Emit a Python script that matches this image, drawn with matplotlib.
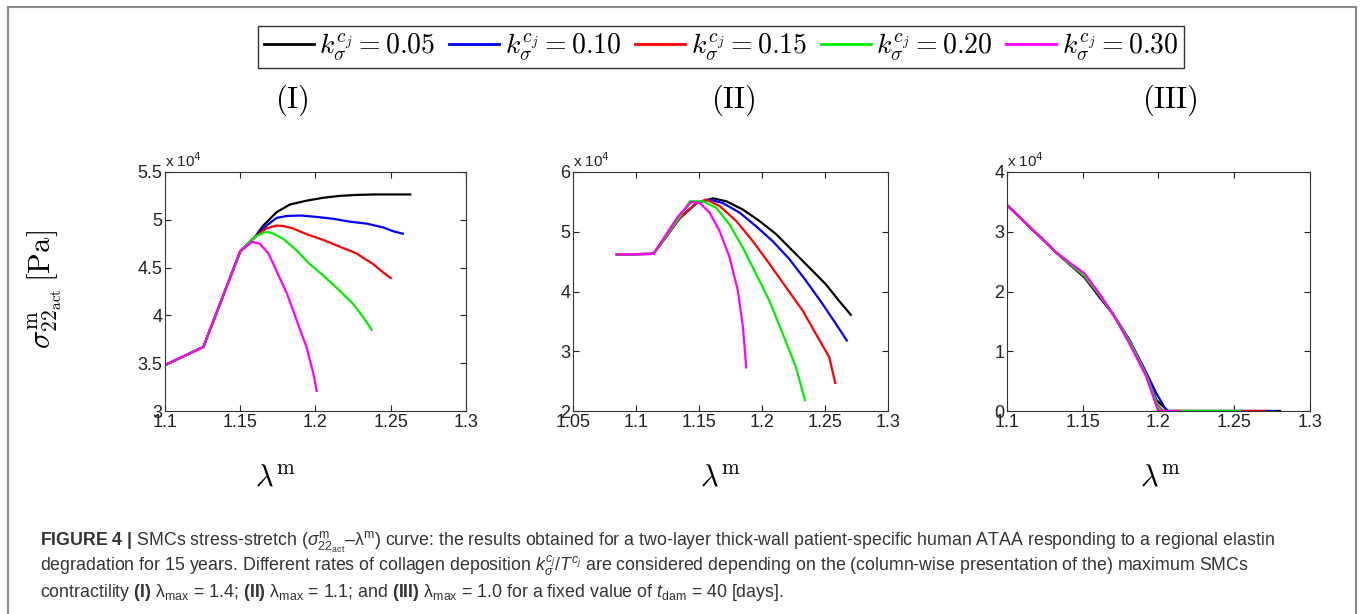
import matplotlib
matplotlib.use("Agg")
import matplotlib.pyplot as plt
from matplotlib.lines import Line2D
from matplotlib.ticker import FuncFormatter

plt.rcParams['font.family'] = ['Liberation Sans', 'DejaVu Sans']
plt.rcParams['mathtext.fontset'] = 'cm'

# legend labels and colours
k_labels = ['0.05', '0.10', '0.15', '0.20', '0.30']
colors = ['black', '#0000ff', '#ff0000', '#00ee00', '#ff00ff']

# panel I, stress in 10^4 Pa
p1_x = [
    [1.101, 1.1255, 1.150, 1.1598, 1.1653, 1.1742, 1.183, 1.194, 1.205, 1.216, 1.227, 1.238, 1.250, 1.263],
    [1.101, 1.1255, 1.150, 1.1598, 1.1675, 1.1742, 1.181, 1.190, 1.2008, 1.212, 1.223, 1.234, 1.245, 1.2517, 1.258],
    [1.101, 1.1255, 1.150, 1.1598, 1.1675, 1.174, 1.1786, 1.185, 1.194, 1.205, 1.216, 1.227, 1.238, 1.245, 1.250],
    [1.101, 1.1255, 1.150, 1.1598, 1.166, 1.169, 1.172, 1.1786, 1.1875, 1.196, 1.205, 1.216, 1.225, 1.2318, 1.2373],
    [1.101, 1.1255, 1.150, 1.158, 1.163, 1.1687, 1.174, 1.181, 1.1875, 1.194, 1.1986, 1.2008],
]
p1_y = [
    [3.488, 3.67, 4.67, 4.82, 4.94, 5.08, 5.16, 5.20, 5.23, 5.25, 5.26, 5.265, 5.265, 5.265],
    [3.488, 3.67, 4.67, 4.82, 4.94, 5.02, 5.04, 5.045, 5.03, 5.01, 4.98, 4.96, 4.92, 4.88, 4.855],
    [3.488, 3.67, 4.67, 4.82, 4.91, 4.94, 4.935, 4.91, 4.85, 4.79, 4.72, 4.65, 4.54, 4.45, 4.39],
    [3.488, 3.67, 4.67, 4.82, 4.87, 4.87, 4.855, 4.80, 4.68, 4.54, 4.42, 4.26, 4.12, 3.98, 3.85],
    [3.488, 3.67, 4.67, 4.77, 4.75, 4.65, 4.47, 4.23, 3.95, 3.67, 3.39, 3.21],
]

# panel II
p2_x = [
    [1.0848, 1.1138, 1.1348, 1.148, 1.1612, 1.1717, 1.1849, 1.198, 1.2112, 1.2244, 1.2376, 1.2507, 1.2613, 1.2705],
    [1.0848, 1.1138, 1.1348, 1.148, 1.1585, 1.169, 1.1822, 1.1954, 1.2086, 1.2218, 1.2349, 1.2481, 1.2586, 1.2673],
    [1.0848, 1.1138, 1.1348, 1.148, 1.1559, 1.1664, 1.1796, 1.1928, 1.206, 1.2191, 1.2323, 1.2428, 1.2534, 1.2581],
    [1.0848, 1.1138, 1.1348, 1.1427, 1.1533, 1.1638, 1.1743, 1.1849, 1.1954, 1.206, 1.2165, 1.227, 1.2341],
    [1.0848, 1.1138, 1.1335, 1.144, 1.1506, 1.1585, 1.1664, 1.1743, 1.1809, 1.1849, 1.1875],
]
p2_y = [
    [4.62, 4.63, 5.23, 5.48, 5.56, 5.51, 5.37, 5.18, 4.96, 4.68, 4.40, 4.12, 3.84, 3.61],
    [4.62, 4.63, 5.23, 5.48, 5.54, 5.48, 5.32, 5.09, 4.84, 4.54, 4.18, 3.79, 3.46, 3.18],
    [4.62, 4.63, 5.23, 5.48, 5.54, 5.43, 5.18, 4.84, 4.46, 4.07, 3.68, 3.29, 2.90, 2.47],
    [4.62, 4.63, 5.25, 5.51, 5.51, 5.40, 5.12, 4.73, 4.29, 3.84, 3.29, 2.73, 2.18],
    [4.62, 4.63, 5.26, 5.50, 5.48, 5.32, 5.01, 4.57, 4.01, 3.40, 2.73],
]

# panel III
p3_x = [
    [1.1007, 1.1326, 1.1513, 1.1612, 1.170, 1.181, 1.192, 1.1987, 1.2064, 1.2802],
    [1.1007, 1.1326, 1.1513, 1.1612, 1.170, 1.181, 1.192, 1.1987, 1.2053, 1.2769],
    [1.1007, 1.1326, 1.1513, 1.1612, 1.170, 1.181, 1.192, 1.1987, 1.203, 1.2703],
    [1.1007, 1.1326, 1.1513, 1.1612, 1.170, 1.181, 1.192, 1.1998, 1.202, 1.2537],
    [1.1007, 1.1326, 1.1513, 1.1612, 1.170, 1.181, 1.192, 1.1998, 1.214],
]
p3_y = [
    [3.43, 2.65, 2.23, 1.90, 1.62, 1.18, 0.62, 0.18, 0.0, 0.0],
    [3.43, 2.65, 2.24, 1.92, 1.62, 1.18, 0.64, 0.29, 0.0, 0.0],
    [3.43, 2.65, 2.25, 1.93, 1.62, 1.16, 0.60, 0.12, 0.0, 0.0],
    [3.43, 2.65, 2.26, 1.94, 1.62, 1.16, 0.60, 0.07, 0.0, 0.0],
    [3.43, 2.65, 2.30, 1.96, 1.62, 1.12, 0.57, 0.0, 0.0],
]

panels = [
    dict(xs=p1_x, ys=p1_y, xlim=(1.1, 1.3), xticks=[1.1, 1.15, 1.2, 1.25, 1.3],
         ylim=(3, 5.5), yticks=[3, 3.5, 4, 4.5, 5, 5.5], title='(I)'),
    dict(xs=p2_x, ys=p2_y, xlim=(1.05, 1.3), xticks=[1.05, 1.1, 1.15, 1.2, 1.25, 1.3],
         ylim=(2, 6), yticks=[2, 3, 4, 5, 6], title='(II)'),
    dict(xs=p3_x, ys=p3_y, xlim=(1.1, 1.3), xticks=[1.1, 1.15, 1.2, 1.25, 1.3],
         ylim=(0, 4), yticks=[0, 1, 2, 3, 4], title='(III)'),
]

W, H = 1360, 614
fig = plt.figure(figsize=(W / 100, H / 100), dpi=100)

boxes = [(165, 301), (573, 315), (1007, 303)]
title_x = [292, 733, 1170]
xlabel_x = [275, 720, 1160]
ax_top, ax_bot = 172, 411
fmt = FuncFormatter(lambda v, p: '%g' % round(v, 3))

for (left, width), tx, lx, pn in zip(boxes, title_x, xlabel_x, panels):
    ax = fig.add_axes([left / W, (H - ax_bot) / H, width / W, (ax_bot - ax_top) / H])
    for xs, ys, c in zip(pn['xs'], pn['ys'], colors):
        ax.plot(xs, ys, color=c, lw=1.6, solid_joinstyle='round')
    ax.set_xlim(*pn['xlim'])
    ax.set_ylim(*pn['ylim'])
    ax.set_xticks(pn['xticks'])
    ax.set_yticks(pn['yticks'])
    ax.xaxis.set_major_formatter(fmt)
    ax.yaxis.set_major_formatter(fmt)
    ax.tick_params(direction='in', length=4, width=0.8, top=True, right=True,
                   labelsize=13, pad=2, colors='#222222')
    for s in ax.spines.values():
        s.set_linewidth(0.8)
        s.set_color('#333333')
    ax.text(0.0, 1.01, 'x 10$^4$', transform=ax.transAxes, fontsize=11,
            ha='left', va='bottom', color='#222222', math_fontfamily='dejavusans')
    fig.text(tx / W, 1 - 100 / H, r'$\mathrm{' + pn['title'] + '}$', ha='center',
             va='center', fontsize=22)
    fig.text(lx / W, 1 - 478 / H, r'$\lambda^{\mathrm{m}}$', ha='center', va='center', fontsize=22)

fig.text(45 / W, 1 - 290 / H, r'$\sigma^{\mathrm{m}}_{22_{\mathrm{act}}}\,[\mathrm{Pa}]$',
         rotation=90, ha='center', va='center', fontsize=22)

handles = [Line2D([], [], color=c, lw=2) for c in colors]
labels = [r'$k_\sigma^{c_j} = ' + k + '$' for k in k_labels]
leg = fig.legend(handles, labels, loc='center', bbox_to_anchor=(721 / W, 1 - 47 / H),
                 ncol=5, fontsize=20, frameon=True, fancybox=False, edgecolor='black',
                 handlelength=1.8, handletextpad=0.2, columnspacing=0.5,
                 borderpad=0.2, borderaxespad=0)
leg.get_frame().set_linewidth(1.0)

# outer frame of the figure panel
fig.add_artist(Line2D([8 / W, 1356 / W], [1 - 7 / H, 1 - 7 / H], color='#888888', lw=1.5))
fig.add_artist(Line2D([8 / W, 8 / W], [0, 1 - 7 / H], color='#888888', lw=1.5))
fig.add_artist(Line2D([1356 / W, 1356 / W], [0, 1 - 7 / H], color='#888888', lw=1.5))

# caption
plt.rcParams['mathtext.rm'] = 'Liberation Sans'
plt.rcParams['mathtext.it'] = 'Liberation Sans:italic'
plt.rcParams['mathtext.bf'] = 'Liberation Sans:bold'
cap_lines = [
    r'$\mathbf{FIGURE\ 4\ |}$ SMCs stress-stretch ($\sigma^{\mathrm{m}}_{22_{\mathrm{act}}}$–$\mathrm{\lambda}^{\mathrm{m}}$) curve: the results obtained for a two-layer thick-wall patient-specific human ATAA responding to a regional elastin',
    r'degradation for 15 years. Different rates of collagen deposition $k_\sigma^{c_j}/T^{c_j}$ are considered depending on the (column-wise presentation of the) maximum SMCs',
    r'contractility $\mathbf{(I)}$ $\mathrm{\lambda}_{\mathrm{max}}$ = 1.4; $\mathbf{(II)}$ $\mathrm{\lambda}_{\mathrm{max}}$ = 1.1; and $\mathbf{(III)}$ $\mathrm{\lambda}_{\mathrm{max}}$ = 1.0 for a fixed value of $t_{\mathrm{dam}}$ = 40 [days].',
]
for i, line in enumerate(cap_lines):
    fig.text(40 / W, 1 - (546 + 25.5 * i) / H, line, ha='left', va='baseline',
             fontsize=12.8, color='#333333', math_fontfamily='custom')

fig.savefig('out.png', dpi=100)
